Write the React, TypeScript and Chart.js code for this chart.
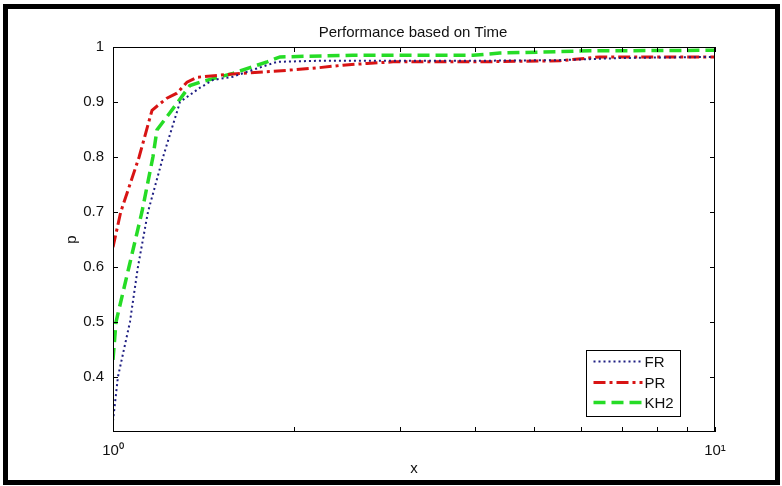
import React, { useEffect, useRef } from 'react';
import { Chart, registerables } from 'chart.js';

Chart.register(...registerables);

const FONT = '"Liberation Sans", Arial, Helvetica, sans-serif';

const TITLE = 'Performance based on Time';
const X_LABEL = 'x';
const Y_LABEL = 'p';
const seriesNames = ['FR', 'PR', 'KH2'];

const frX = [1, 1.019, 1.067, 1.1, 1.143, 1.211, 1.292, 1.395, 1.466, 1.582, 1.734, 1.873, 2.2, 3.0, 4.0, 5.5, 7.0, 10];
const frY = [0.32, 0.4, 0.5, 0.6, 0.7, 0.8, 0.9, 0.926, 0.94, 0.946, 0.961, 0.973, 0.975, 0.975, 0.975, 0.976, 0.98, 0.982];

const prX = [1, 1.03, 1.105, 1.161, 1.229, 1.277, 1.327, 1.379, 1.58, 1.968, 2.182, 2.41, 2.642, 2.918, 4.0, 5.53, 6.44, 10];
const prY = [0.636, 0.7, 0.8, 0.885, 0.907, 0.916, 0.936, 0.945, 0.951, 0.958, 0.962, 0.967, 0.97, 0.973, 0.973, 0.975, 0.982, 0.982];

const khX = [1, 1.0115, 1.063, 1.117, 1.165, 1.183, 1.282, 1.342, 1.395, 1.582, 1.803, 1.894, 2.5, 3.963, 4.39, 6.2, 10];
const khY = [0.431, 0.5, 0.6, 0.7, 0.8, 0.849, 0.9, 0.93, 0.936, 0.952, 0.973, 0.982, 0.985, 0.985, 0.989, 0.993, 0.994];

const xTickValues = [1, 2, 3, 4, 5, 6, 7, 8, 9, 10];
const xTickLabels = ['10\u2070', '', '', '', '', '', '', '', '', '10\u00b9'];
const yTickValues = [0.4, 0.5, 0.6, 0.7, 0.8, 0.9, 1];
const yTickLabels = ['0.4', '0.5', '0.6', '0.7', '0.8', '0.9', '1'];

const X_MIN = 1;
const X_MAX = 10;
const Y_MIN = 0.3;
const Y_MAX = 1;

const colors = ['#1e1e82', '#d81414', '#26dc26'];
const widths = [2, 3, 3.5];
const dashes = [[2, 3], [12, 4, 3, 4], [12, 6]];

const toPoints = (xs: number[], ys: number[]) => xs.map((x, i) => ({ x, y: ys[i] }));

const matlabPlugin = {
  id: 'matlabDecor',
  afterDraw(chart: any) {
    const { ctx, chartArea: a, scales } = chart;
    ctx.save();
    ctx.strokeStyle = '#000';
    ctx.lineWidth = 1;
    ctx.setLineDash([]);
    ctx.strokeRect(Math.round(a.left) + 0.5, Math.round(a.top) + 0.5, Math.round(a.right - a.left) - 1, Math.round(a.bottom - a.top) - 1);
    const tl = 5;
    ctx.beginPath();
    xTickValues.forEach((v) => {
      const px = Math.round(scales.x.getPixelForValue(v)) + 0.5;
      ctx.moveTo(px, a.bottom);
      ctx.lineTo(px, a.bottom - tl);
      ctx.moveTo(px, a.top);
      ctx.lineTo(px, a.top + tl);
    });
    yTickValues.forEach((v) => {
      const py = Math.round(scales.y.getPixelForValue(v)) + 0.5;
      ctx.moveTo(a.left, py);
      ctx.lineTo(a.left + tl, py);
      ctx.moveTo(a.right, py);
      ctx.lineTo(a.right - tl, py);
    });
    ctx.stroke();
    ctx.fillStyle = '#111';
    ctx.font = '15px ' + FONT;
    ctx.textAlign = 'center';
    ctx.textBaseline = 'alphabetic';
    ctx.fillText(TITLE, (a.left + a.right) / 2 - 1, a.top - 10);
    const bx = Math.round(a.right - 129) + 0.5;
    const by = Math.round(a.bottom - 82) + 0.5;
    const bw = 94;
    const bh = 66;
    ctx.fillStyle = '#fff';
    ctx.fillRect(bx, by, bw, bh);
    ctx.strokeStyle = '#000';
    ctx.lineWidth = 1;
    ctx.strokeRect(bx, by, bw, bh);
    const rows = [11, 32, 52];
    chart.data.datasets.forEach((ds: any, i: number) => {
      const y = by + rows[i];
      ctx.save();
      ctx.strokeStyle = ds.borderColor;
      ctx.lineWidth = ds.borderWidth;
      ctx.setLineDash(ds.borderDash || []);
      ctx.beginPath();
      ctx.moveTo(bx + 7, y);
      ctx.lineTo(bx + 56, y);
      ctx.stroke();
      ctx.restore();
      ctx.fillStyle = '#111';
      ctx.font = '15px ' + FONT;
      ctx.textAlign = 'left';
      ctx.textBaseline = 'middle';
      ctx.fillText(ds.label, bx + 58, y + 1);
    });
    ctx.restore();
  },
};

export default function App() {
  const ref = useRef<HTMLCanvasElement | null>(null);

  useEffect(() => {
    document.body.style.margin = '0';
    const canvas = ref.current;
    if (!canvas) return;
    const seriesX = [frX, prX, khX];
    const seriesY = [frY, prY, khY];
    const chart = new Chart(canvas, {
      type: 'line',
      data: {
        datasets: seriesNames.map((name, i) => ({
          label: name,
          data: toPoints(seriesX[i], seriesY[i]),
          borderColor: colors[i],
          backgroundColor: colors[i],
          borderWidth: widths[i],
          borderDash: dashes[i],
          borderCapStyle: 'butt',
          pointRadius: 0,
          fill: false,
          tension: 0,
        })),
      },
      options: {
        animation: false,
        responsive: false,
        devicePixelRatio: 1,
        layout: { padding: { left: 59, top: 47, right: 67, bottom: 5 } },
        plugins: {
          legend: { display: false },
          title: { display: false },
          tooltip: { enabled: false },
        },
        scales: {
          x: {
            type: 'logarithmic',
            min: X_MIN,
            max: X_MAX,
            position: 'bottom',
            grid: { display: false, drawTicks: false },
            border: { display: false },
            afterBuildTicks: (scale: any) => {
              scale.ticks = xTickValues.map((v) => ({ value: v }));
            },
            afterFit: (scale: any) => {
              scale.height = 49;
            },
            ticks: {
              autoSkip: false,
              maxRotation: 0,
              padding: 10,
              color: '#111',
              font: { family: FONT, size: 15 },
              callback: (v: any) => {
                const i = xTickValues.indexOf(Number(v));
                return i >= 0 ? xTickLabels[i] : '';
              },
            },
            title: {
              display: true,
              text: X_LABEL,
              color: '#111',
              font: { family: FONT, size: 15 },
              padding: { top: 0, bottom: 3 },
            },
          },
          y: {
            type: 'linear',
            min: Y_MIN,
            max: Y_MAX,
            grid: { display: false, drawTicks: false },
            border: { display: false },
            afterBuildTicks: (scale: any) => {
              scale.ticks = yTickValues.map((v) => ({ value: v }));
            },
            afterFit: (scale: any) => {
              scale.width = 54;
            },
            ticks: {
              padding: 9,
              color: '#111',
              font: { family: FONT, size: 15 },
              callback: (v: any) => {
                const i = yTickValues.findIndex((t) => Math.abs(t - Number(v)) < 1e-9);
                return i >= 0 ? yTickLabels[i] : '';
              },
            },
            title: {
              display: true,
              text: Y_LABEL,
              color: '#111',
              font: { family: FONT, size: 15 },
              padding: { top: 4, bottom: 0 },
            },
          },
        },
      },
      plugins: [matlabPlugin],
    } as any);
    return () => chart.destroy();
  }, []);

  return (
    <div style={{ position: 'fixed', left: 0, top: 0, width: 782, height: 486, background: '#fff' }}>
      <canvas ref={ref} width={782} height={486} style={{ position: 'absolute', left: 0, top: 0 }} />
      <div
        style={{
          position: 'absolute',
          left: 3,
          top: 4,
          width: 777,
          height: 481,
          border: '5px solid #000',
          boxSizing: 'border-box',
          pointerEvents: 'none',
        }}
      />
    </div>
  );
}
